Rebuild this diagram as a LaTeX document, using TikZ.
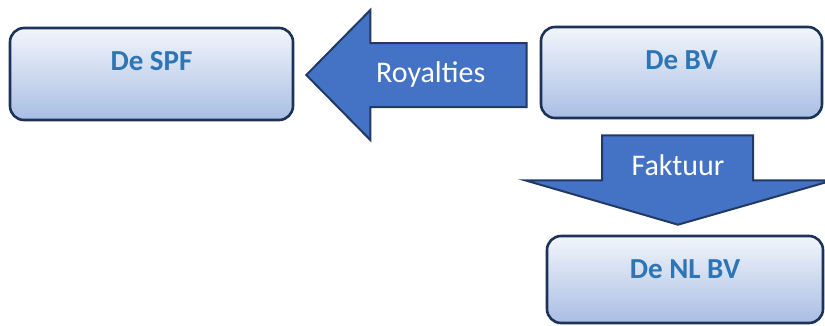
\documentclass[tikz,border=0pt]{standalone}
\usepackage{fontspec}
\setmainfont{Carlito}
\usetikzlibrary{calc}
\definecolor{boxtop}{HTML}{F2F5FB}
\definecolor{boxbottom}{HTML}{A9BEE4}
\definecolor{boxline}{HTML}{1C3259}
\definecolor{boxtext}{HTML}{2E75B6}
\definecolor{arrowfill}{HTML}{4472C4}
\definecolor{arrowline}{HTML}{223A63}

\begin{document}
\begin{tikzpicture}[
  x=1pt,
  y=-1pt,
  every node/.style={inner sep=0pt},
  entity/.style={draw=boxline, line width=2.6pt, rounded corners=14pt,
                 top color=boxtop, bottom color=boxbottom},
  entitytext/.style={font=\fontsize{29}{34}\selectfont\bfseries,
                     text=boxtext, anchor=base},
  blockarrow/.style={draw=arrowline, fill=arrowfill, line width=2pt,
                     line join=miter},
  arrowtext/.style={font=\fontsize{30}{36}\selectfont, text=white,
                    anchor=base}
]
  \useasboundingbox (0,0) rectangle (825,325);

  % ---- the three companies ----
  \node[entity, minimum width=283pt, minimum height=92pt] (spf)  at (151.5,74)  {};
  \node[entity, minimum width=281pt, minimum height=91pt] (bv)   at (681.5,72.5) {};
  \node[entity, minimum width=276pt, minimum height=87pt] (nlbv) at (685,279.5) {};

  \node[entitytext] (spflabel)  at ($(spf.north)+(0,44)$)  {De SPF};
  \node[entitytext] (bvlabel)   at ($(bv.north)+(0,44)$)   {De BV};
  \node[entitytext] (nlbvlabel) at ($(nlbv.north)+(0,44)$) {De NL BV};

  % ---- royalties: block arrow from BV to SPF ----
  \coordinate (rtip) at ($(spf.east)+(12,1)$);
  \coordinate (rtail) at ($(bv.west)+(-13,0)$);
  \coordinate (rend) at (rtail |- rtip);
  \draw[blockarrow] ($(rend)+(0,-32)$) -- ($(rtip)+(64,-32)$)
    -- ($(rtip)+(64,-65)$) -- (rtip) -- ($(rtip)+(64,65)$)
    -- ($(rtip)+(64,32)$) -- ($(rend)+(0,32)$) -- cycle;
  \node[arrowtext] (royalties) at ($(rend)+(-96,7)$) {Royalties};

  % ---- faktuur: block arrow from BV down to NL BV ----
  \coordinate (ftop) at ($(bv.south)+(-3.5,16)$);
  \coordinate (fbase) at (ftop |- nlbv.north);
  \coordinate (ftip) at ($(fbase)+(0,-10)$);
  \draw[blockarrow] ($(ftop)+(-76,0)$) -- ($(ftop)+(75,0)$)
    -- ($(ftop)+(75,45)$) -- ($(ftop)+(155,45)$) -- (ftip)
    -- ($(ftop)+(-153,45)$) -- ($(ftop)+(-76,45)$) -- cycle;
  \node[arrowtext] (faktuur) at ($(ftop)+(0,40)$) {Faktuur};
\end{tikzpicture}
\end{document}
